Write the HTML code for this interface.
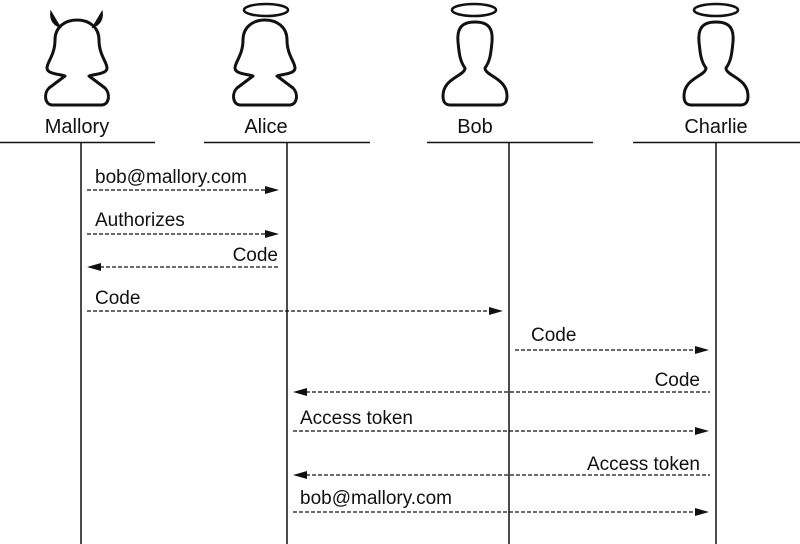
<!DOCTYPE html>
<html><head><meta charset="utf-8"><style>
html,body{margin:0;padding:0;background:#fff;}
svg{display:block;}
text{font-family:"Liberation Sans",Arial,sans-serif;font-size:19px;fill:#111;}
text.h{font-size:20px;}
</style></head><body>
<svg width="800" height="544" viewBox="0 0 800 544" xmlns="http://www.w3.org/2000/svg">
<defs>
<path id="fem" d="M -12,76 L -28,88 C -33,93 -33,104 -25,105 L 25,105 C 33,104 33,93 28,88 L 12,76 C 18,74 30,74 30,68 C 30,62 22,55 22,40 C 22,27 12,20 0,20 C -12,20 -22,27 -22,40 C -22,55 -30,62 -30,68 C -30,74 -18,74 -12,76 Z" fill="none" stroke="#111" stroke-width="3" stroke-linejoin="round"/>
<path id="male" d="M -10,68 C -10,76 -32,78 -32,96 C -32,104 -28,105 -24,105 L 24,105 C 28,105 32,104 32,96 C 32,78 10,76 10,68 C 16,60 16,50 17,42 C 18,30 15,22 0,22 C -15,22 -18,30 -17,42 C -16,50 -16,60 -10,68 Z" fill="none" stroke="#111" stroke-width="3" stroke-linejoin="round"/>
<path id="ar" d="M0,0 L-14,-4 L-14,4 Z" fill="#111"/>
<path id="al" d="M0,0 L14,-4 L14,4 Z" fill="#111"/>
</defs>
<use href="#fem" x="77" y="0"/>
<path d="M51,12 C50,20 54,25 60,27 L57,22 Z M102,12 C103,20 99,25 93,27 L96,22 Z" fill="#111" stroke="#111" stroke-width="1.5"/>
<use href="#fem" x="265" y="0"/>
<ellipse cx="266" cy="10" rx="22" ry="6" fill="none" stroke="#111" stroke-width="2.5"/>
<use href="#male" x="475" y="0"/>
<ellipse cx="474" cy="10" rx="22" ry="6" fill="none" stroke="#111" stroke-width="2.5"/>
<use href="#male" x="716" y="0"/>
<ellipse cx="716" cy="10" rx="22" ry="6" fill="none" stroke="#111" stroke-width="2.5"/>
<text class="h" x="77" y="133" text-anchor="middle">Mallory</text>
<text class="h" x="266" y="133" text-anchor="middle">Alice</text>
<text class="h" x="475" y="133" text-anchor="middle">Bob</text>
<text class="h" x="716" y="133" text-anchor="middle">Charlie</text>
<g stroke="#111" stroke-width="1.5">
<line x1="0" y1="142.5" x2="155" y2="142.5"/>
<line x1="204" y1="142.5" x2="370" y2="142.5"/>
<line x1="427" y1="142.5" x2="593" y2="142.5"/>
<line x1="633" y1="142.5" x2="800" y2="142.5"/>
<line x1="81" y1="142" x2="81" y2="544"/>
<line x1="287" y1="142" x2="287" y2="544"/>
<line x1="509" y1="142" x2="509" y2="544"/>
<line x1="716" y1="142" x2="716" y2="544"/>
</g>
<g stroke="#111" stroke-width="1.2" stroke-dasharray="4,2">
<line x1="87" y1="190" x2="266" y2="190"/>
<line x1="87" y1="234" x2="266" y2="234"/>
<line x1="100" y1="267" x2="279" y2="267"/>
<line x1="87" y1="311" x2="490" y2="311"/>
<line x1="515" y1="350" x2="696" y2="350"/>
<line x1="306" y1="392" x2="710" y2="392"/>
<line x1="293" y1="431" x2="696" y2="431"/>
<line x1="306" y1="475" x2="710" y2="475"/>
<line x1="293" y1="512" x2="696" y2="512"/>
</g>
<use href="#ar" x="279" y="190"/>
<use href="#ar" x="279" y="234"/>
<use href="#al" x="87" y="267"/>
<use href="#ar" x="503" y="311"/>
<use href="#ar" x="709" y="350"/>
<use href="#al" x="293" y="392"/>
<use href="#ar" x="709" y="431"/>
<use href="#al" x="293" y="475"/>
<use href="#ar" x="709" y="512"/>
<text x="95" y="183">bob@mallory.com</text>
<text x="95" y="226">Authorizes</text>
<text x="278" y="261" text-anchor="end">Code</text>
<text x="95" y="304">Code</text>
<text x="531" y="341">Code</text>
<text x="700" y="386" text-anchor="end">Code</text>
<text x="300" y="424">Access token</text>
<text x="700" y="470" text-anchor="end">Access token</text>
<text x="300" y="504">bob@mallory.com</text>
</svg>
</body></html>
